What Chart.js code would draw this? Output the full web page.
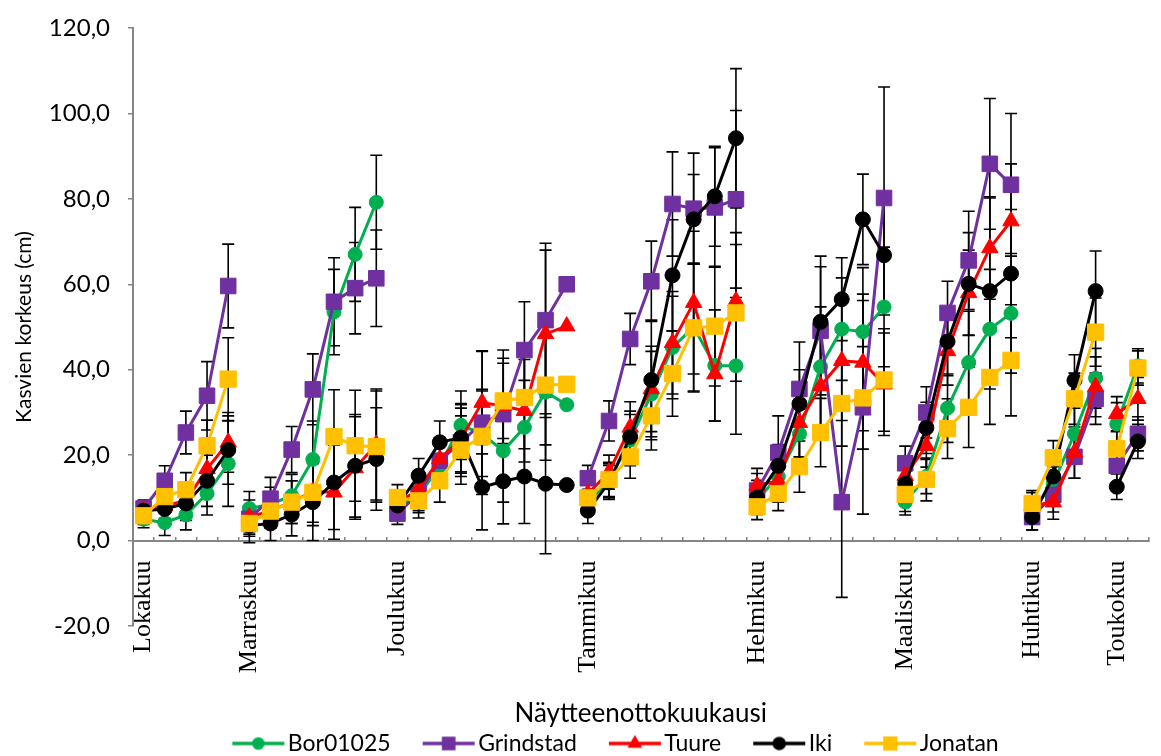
<!DOCTYPE html>
<html>
<head>
<meta charset="utf-8">
<script src="https://cdn.jsdelivr.net/npm/chart.js@4/dist/chart.umd.min.js"></script>
<style>
  html, body { margin: 0; padding: 0; background: #fff; }
  #wrap { width: 1161px; height: 756px; }
</style>
</head>
<body>
<div id="wrap"><canvas id="heightChart" width="1161" height="756"></canvas></div>
<script>
// sampling months and the index of the first sample of each month
const months = ['Lokakuu', 'Marraskuu', 'Joulukuu', 'Tammikuu', 'Helmikuu', 'Maaliskuu', 'Huhtikuu', 'Toukokuu']
const monthStart = [0, 5, 12, 21, 29, 36, 42, 46]
const sampleCount = 48

const seriesNames = ['Bor01025', 'Grindstad', 'Tuure', 'Iki', 'Jonatan']

// mean plant height (cm), one row per month
const bor = [
  5.0, 4.2, 6.0, 11.0, 18.0,
  7.5, 8.5, 10.5, 19.0, 53.5, 67.0, 79.2,
  8.0, 10.5, 17.5, 27.0, 25.0, 21.0, 26.5, 34.8, 31.8,
  9.0, 14.0, 23.5, 34.3, 45.2, 50.0, 41.0, 40.9,
  9.5, 15.0, 25.0, 40.7, 49.5, 48.9, 54.7,
  9.0, 15.0, 31.0, 41.7, 49.5, 53.2,
  7.0, 13.3, 25.0, 38.0,
  27.3, 40.9
]
const grindstad = [
  7.5, 14.0, 25.3, 33.9, 59.6,
  5.1, 9.8, 21.3, 35.4, 55.9, 59.1, 61.4,
  6.3, 11.0, 18.7, 23.0, 27.6, 29.6, 44.6, 51.6, 60.0,
  14.6, 28.0, 47.2, 60.7, 78.8, 77.7, 78.0, 79.9,
  11.7, 20.6, 35.5, 49.1, 9.0, 31.2, 80.2,
  18.1, 30.0, 53.3, 65.6, 88.2, 83.3,
  5.5, 10.7, 19.6, 33.2,
  17.5, 25.0
]
const tuure = [
  7.2, 8.2, 9.3, 16.8, 23.0,
  5.5, 7.0, 9.0, 11.5, 11.3, 17.0, 22.5,
  8.6, 12.1, 19.1, 23.8, 32.3, 31.5, 30.4, 48.4, 50.2,
  11.0, 16.0, 26.5, 35.5, 46.3, 55.7, 39.0, 56.1,
  12.9, 14.0, 27.6, 36.2, 42.1, 41.7, 36.6,
  15.2, 22.2, 44.4, 58.0, 68.5, 74.8,
  8.2, 9.0, 20.6, 36.0,
  29.7, 33.2
]
const iki = [
  7.0, 7.4, 8.7, 14.0, 21.2,
  3.5, 4.0, 6.1, 9.0, 13.6, 17.5, 19.1,
  8.2, 15.2, 23.0, 24.1, 12.5, 13.9, 15.0, 13.3, 13.0,
  7.0, 13.6, 24.3, 37.6, 62.1, 75.2, 80.6, 94.2,
  10.1, 17.5, 32.0, 51.2, 56.5, 75.2, 66.8,
  13.3, 26.4, 46.6, 60.1, 58.4, 62.5,
  5.5, 15.0, 37.5, 58.4,
  12.6, 23.2
]
const jonatan = [
  5.8, 10.3, 11.9, 22.2, 37.8,
  4.0, 6.9, 9.0, 11.3, 24.3, 22.2, 22.0,
  10.1, 9.3, 14.0, 21.2, 24.4, 32.7, 33.5, 36.4, 36.6,
  10.0, 14.3, 19.6, 29.2, 39.1, 49.8, 50.2, 53.3,
  7.9, 11.0, 17.3, 25.3, 32.1, 33.4, 37.6,
  10.8, 14.3, 26.2, 31.2, 38.2, 42.2,
  8.7, 19.4, 33.2, 48.8,
  21.5, 40.4
]

// standard deviations for the error bars (null = no bar)
const borSd = [
  2, 3, 3.5, 5, 10,
  4, 4, 5, 9, 10, 11, 11,
  3, 4, 5, 8, 10, 12, 11, 16, null,
  3, 4, 6, 10, 12, 15, 13, 16,
  3, 5, 8, 14, 12, 15, 14,
  3, 4, 8, 12, 14, 14,
  3, 4, 6, 7,
  5, 4
]
const grindstadSd = [
  2, 3.5, 5, 8, 9.8,
  3, 5, 5.4, 8.3, 10.3, 10.7, 11.3,
  2.5, 4, 5, 8, 16.8, 15, 11.3, 18, null,
  3, 4.7, 6, 9.4, 12.2, 13, 14, 20.8,
  4, 8.6, 11, 15, 22.3, 25, 26,
  4, 6, 7.4, 11.5, 15.3, 16.7,
  3, 4, 5, 6,
  5, 4
]
const tuureSd = [
  2, 3, 4, 6, 7,
  4, 4, 5, 8, 11, 12, 13,
  3, 4, 5, 8, 12, 10, 12, 19.6, null,
  3, 4, 6, 10, 12, 16.7, 11, 16,
  4, 5, 8, 12, 14, 16, 12,
  4, 5, 8, 10, 12, 13.4,
  3, 4, 6, 7,
  4, 5
]
const ikiSd = [
  2, 3, 4, 6, 8,
  4, 4, 5, 9, 11, 12, 12,
  3, 4, 5, 8, 10, 10, 11, 16.4, null,
  3, 4, 6, 14, 13, 10.5, 11.7, 16.3,
  4, 5, 8, 15.4, 9.7, 10.6, 14,
  4, 6, 8, 12, 21.8, 15,
  3, 4, 6, 9.4,
  3, 4
]
const jonatanSd = [
  2, 3, 4, 6, 9.7,
  3, 4, 5, 7, 11, 13, 13,
  3, 4, 5, 8, 11, 10, 12, 14, null,
  3, 4, 5, 8, 10, 15, 14, 16,
  3, 4, 6, 8, 10, 12, 12,
  4, 5, 7, 9.4, 11, 13,
  3, 4, 6, 8,
  4, 4
]

const seriesValues = [bor, grindstad, tuure, iki, jonatan]
const seriesErrors = [borSd, grindstadSd, tuureSd, ikiSd, jonatanSd]
const seriesColours = ['#00B050', '#7030A0', '#FF0000', '#000000', '#FFC000']
const seriesMarkers = [['circle', 7], ['rect', 11], ['triangle', 9.5], ['circle', 7.5], ['rect', 11.5]]

const sansFont = 'Lato'

// category labels: month name on the first sample of the month
const labels = []
for (let i = 0; i < sampleCount; i++) {
  const m = monthStart.indexOf(i)
  labels.push(m === -1 ? '' : months[m])
}

// legend icon: short line with the marker in the middle
function legendIcon(colour, style, r) {
  const c = document.createElement('canvas')
  c.width = 104
  c.height = 26
  const g = c.getContext('2d')
  g.strokeStyle = colour
  g.fillStyle = colour
  g.lineWidth = 3.5
  g.beginPath()
  g.moveTo(40, 13)
  g.lineTo(92, 13)
  g.stroke()
  const cx = 66, cy = 13
  g.beginPath()
  if (style === 'circle') {
    g.arc(cx, cy, r * 0.9, 0, Math.PI * 2)
  } else if (style === 'rect') {
    const h = r * 0.62
    g.rect(cx - h, cy - h, h * 2, h * 2)
  } else {
    const s = r * 0.9
    g.moveTo(cx, cy - s)
    g.lineTo(cx + s * 0.866, cy + s * 0.5)
    g.lineTo(cx - s * 0.866, cy + s * 0.5)
    g.closePath()
  }
  g.fill()
  return c
}

const datasets = []
for (let i = 0; i < seriesNames.length; i++) {
  datasets.push({
    label: seriesNames[i],
    data: seriesValues[i],
    errors: seriesErrors[i],
    order: seriesNames.length - i,
    borderColor: seriesColours[i],
    backgroundColor: seriesColours[i],
    pointBackgroundColor: seriesColours[i],
    pointBorderColor: seriesColours[i],
    pointBorderWidth: 1,
    pointStyle: seriesMarkers[i][0],
    pointRadius: seriesMarkers[i][1],
    borderWidth: 3,
    tension: 0,
    fill: false,
    // no line between the last sample of a month and the next month
    segment: {
      borderColor: ctx => monthStart.includes(ctx.p1DataIndex) ? 'rgba(0,0,0,0)' : undefined
    },
    legendIcon: legendIcon(seriesColours[i], seriesMarkers[i][0], seriesMarkers[i][1])
  })
}

const errorBars = {
  id: 'errorBars',
  beforeDatasetsDraw(chart) {
    const ctx = chart.ctx
    const yScale = chart.scales.y
    ctx.save()
    ctx.strokeStyle = '#000'
    ctx.lineWidth = 1.6
    chart.data.datasets.forEach((ds, i) => {
      const meta = chart.getDatasetMeta(i)
      ds.data.forEach((v, j) => {
        const e = ds.errors[j]
        if (v == null || !e) return
        const x = meta.data[j].x
        const top = yScale.getPixelForValue(v + e)
        const bot = yScale.getPixelForValue(v - e)
        ctx.beginPath()
        ctx.moveTo(x, top); ctx.lineTo(x, bot)
        ctx.moveTo(x - 6, top); ctx.lineTo(x + 6, top)
        ctx.moveTo(x - 6, bot); ctx.lineTo(x + 6, bot)
        ctx.stroke()
      })
    })
    ctx.restore()
  }
}

// move the legend row a little lower and to the right after layout
const legendNudge = {
  id: 'legendNudge',
  afterLayout(chart) {
    chart.legend.top += 9
    chart.legend.bottom += 9
    chart.legend.left += 26
    chart.legend.right += 26
  }
}

const heightChart = new Chart(
  document.getElementById('heightChart').getContext('2d'),
  {
    type: 'line',
    data: {labels: labels, datasets: datasets},
    plugins: [errorBars, legendNudge],
    options: {
      responsive: false,
      animation: false,
      devicePixelRatio: 1,
      layout: {padding: {top: 28, right: 2, left: 0, bottom: 0}},
      scales: {
        x: {
          type: 'category',
          position: {y: 0},
          offset: true,
          grid: {offset: true, drawOnChartArea: false, drawTicks: true, tickLength: -5, color: '#868686', lineWidth: 1.5},
          border: {color: '#868686', width: 2},
          ticks: {
            autoSkip: false, minRotation: 90, maxRotation: 90, padding: 25,
            color: '#000', font: {family: 'Liberation Serif', size: 26}
          },
          title: {
            display: true, text: 'Näytteenottokuukausi', color: '#000',
            font: {family: sansFont, size: 26}, padding: {top: 0, bottom: 4}
          },
          afterFit: s => { s.paddingLeft = 0; s.paddingRight = 0; s.paddingTop = 0 }
        },
        xPad: {
          type: 'category',
          position: 'bottom',
          grid: {display: false},
          border: {display: false},
          ticks: {display: false},
          afterFit: s => { s.height = 85; s.paddingLeft = 0; s.paddingRight = 0 }
        },
        y: {
          min: -20,
          max: 120,
          ticks: {
            stepSize: 20, padding: 18, color: '#000',
            font: {family: sansFont, size: 24},
            callback: v => v.toFixed(1).replace('.', ',')
          },
          grid: {drawOnChartArea: false, drawTicks: true, tickLength: 5, color: '#868686', lineWidth: 1.5},
          border: {color: '#868686', width: 2},
          title: {
            display: true, text: 'Kasvien korkeus (cm)', color: '#000',
            font: {family: sansFont, size: 21}, padding: {top: 12, bottom: 0}
          },
          afterFit: s => { s.width = 133; s.paddingTop = 0; s.paddingBottom = 0 }
        }
      },
      plugins: {
        legend: {
          position: 'bottom',
          labels: {
            usePointStyle: true,
            pointStyleWidth: 64,
            padding: 12,
            color: '#000',
            font: {family: sansFont, size: 23},
            sort: (a, b) => a.datasetIndex - b.datasetIndex,
            generateLabels: chart => Chart.defaults.plugins.legend.labels.generateLabels(chart).map(item => {
              item.pointStyle = chart.data.datasets[item.datasetIndex].legendIcon
              return item
            })
          }
        },
        tooltip: {enabled: false}
      }
    }
  }
)
</script>
</body>
</html>
